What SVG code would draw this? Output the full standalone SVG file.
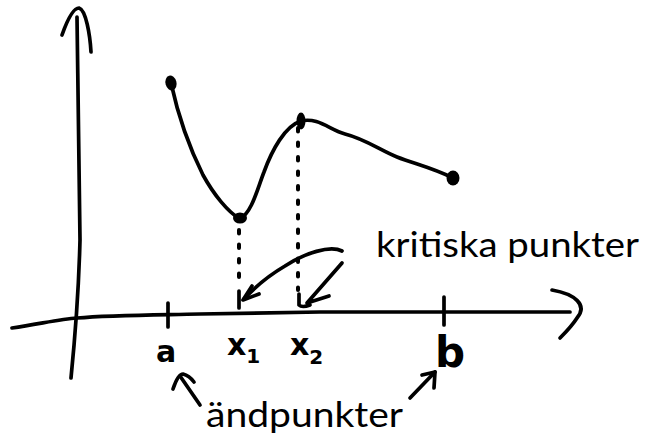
<svg xmlns="http://www.w3.org/2000/svg" width="647" height="437" viewBox="0 0 647 437">
<style>
.s{fill:none;stroke:#000;stroke-width:3.7;stroke-linecap:round;stroke-linejoin:round}
.d{fill:none;stroke:#000;stroke-width:4;stroke-linecap:round;stroke-dasharray:3.5 11}
.dot{fill:#000}
.lbl{font-family:Lato,"Open Sans","Liberation Sans",sans-serif;font-size:35px;fill:#000}
.hw{font-family:"DejaVu Sans","Liberation Sans",sans-serif;font-weight:bold;fill:#000}
</style>
<rect width="647" height="437" fill="#fff"/>
<g id="axes">
<path class="s" d="M77,17 C78,100 80,200 80,240 C79,280 77,318 71,378"/>
<path class="s" d="M62,35 C68,18 74,8 79,8 C86,10 90,35 91,52"/>
<path class="s" d="M12,328 C40,324 60,319 77,318 C110,315 150,315 200,314 L320,312 L570,312"/>
<path class="s" d="M552,290 C575,294 588,305 577,318 C572,326 566,332 560,338"/>
<path class="s" d="M168,303 L168,327"/>
<path class="s" d="M444,297 L444,325"/>
</g>
<g id="curve">
<path class="s" d="M171,83 C178,115 188,145 203,175 C214,195 228,212 240,219 C252,212 257,190 264,172 C272,150 285,126 301,121 C318,117 330,130 345,134 C365,139 380,150 397,157 C415,164 433,168 453,178"/>
<ellipse class="dot" cx="171" cy="83" rx="5.5" ry="7.5" transform="rotate(-15 171 83)"/>
<ellipse class="dot" cx="240" cy="218" rx="7" ry="5.5"/>
<ellipse class="dot" cx="301" cy="121" rx="4.5" ry="8.5"/>
<ellipse class="dot" cx="453" cy="178" rx="6.5" ry="7.5"/>
</g>
<g id="guides">
<path class="d" d="M239,230 L239,286"/>
<path class="s" d="M239,291 L239,308"/>
<path class="d" d="M298,128 L298,290"/>
<path class="s" d="M299,294 L299,305 Q302,308 310,305"/>
</g>
<g id="connectors">
<path class="s" d="M342,251 C330,245 305,253 285,266 C268,276 255,287 244,299"/>
<path class="s" d="M252,286 L243,300 L259,294"/>
<path class="s" d="M342,263 L307,303 L329,296"/>
<path class="s" d="M200,405 L180,376"/>
<path class="s" d="M173,389 C176,380 179,374 183,374 C187,375 191,378 194,382"/>
<path class="s" d="M410,398 L435,372"/>
<path class="s" d="M422,375 L435,372 L434,388"/>
</g>
<g id="labels">
<text class="hw" x="166" y="362" font-size="30" text-anchor="middle">a</text>
<text class="hw" x="227" y="355" font-size="30">x<tspan font-size="20" dy="8">1</tspan></text>
<text class="hw" x="290" y="355" font-size="30">x<tspan font-size="20" dy="9">2</tspan></text>
<text class="hw" x="450" y="367" font-size="42" text-anchor="middle">b</text>
<text class="lbl" x="376" y="257" textLength="263" lengthAdjust="spacingAndGlyphs">kritiska punkter</text>
<text class="lbl" x="206" y="427" textLength="197" lengthAdjust="spacingAndGlyphs">ändpunkter</text>
</g>
</svg>
